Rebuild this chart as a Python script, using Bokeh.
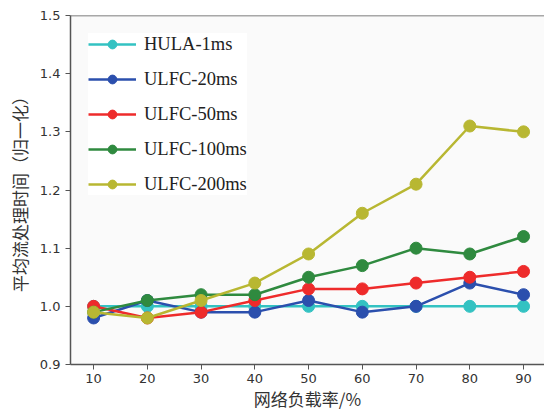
from bokeh.plotting import figure
from bokeh.models import Span, Legend, LegendItem, FixedTicker, Range1d, NumeralTickFormatter
from bokeh.embed import file_html
from bokeh.resources import INLINE

loads = [10, 20, 30, 40, 50, 60, 70, 80, 90]
hula_1ms = [1.00, 1.00, 1.00, 1.00, 1.00, 1.00, 1.00, 1.00, 1.00]
ulfc_20ms = [0.98, 1.01, 0.99, 0.99, 1.01, 0.99, 1.00, 1.04, 1.02]
ulfc_50ms = [1.00, 0.98, 0.99, 1.01, 1.03, 1.03, 1.04, 1.05, 1.06]
ulfc_100ms = [0.99, 1.01, 1.02, 1.02, 1.05, 1.07, 1.10, 1.09, 1.12]
ulfc_200ms = [0.99, 0.98, 1.01, 1.04, 1.09, 1.16, 1.21, 1.31, 1.30]

series_names = ["HULA-1ms", "ULFC-20ms", "ULFC-50ms", "ULFC-100ms", "ULFC-200ms"]
series_values = [hula_1ms, ulfc_20ms, ulfc_50ms, ulfc_100ms, ulfc_200ms]
series_colors = ["#33c2c2", "#2b4fad", "#ee2b2b", "#2f8a3f", "#b8b732"]

y_ticks = [0.9, 1.0, 1.1, 1.2, 1.3, 1.4, 1.5]
x_title = "网络负载率/%"
y_title = "平均流处理时间（归一化）"

p = figure(width=544, height=413, output_backend="svg", toolbar_location=None,
           x_range=Range1d(5.7, 93.9), y_range=Range1d(0.9, 1.5),
           min_border_left=70, min_border_right=0, min_border_top=15, min_border_bottom=46)

p.background_fill_color = "#fafafa"
p.border_fill_color = "#ffffff"
p.outline_line_color = None
p.grid.visible = False

items = []
for name, vals, col in zip(series_names, series_values, series_colors):
    l = p.line(loads, vals, line_color=col, line_width=2.5)
    s = p.scatter(loads, vals, size=12, fill_color=col, line_color=col)
    items.append(LegendItem(label=name, renderers=[l, s]))

legend = Legend(items=items, location="top_left")
legend.label_text_font = "Liberation Serif"
legend.label_text_font_size = "18.5px"
legend.label_text_color = "#222222"
legend.glyph_width = 48
legend.glyph_height = 22
legend.spacing = 13
legend.label_standoff = 8
legend.margin = 18
legend.padding = 10
legend.border_line_color = None
legend.background_fill_color = "#ffffff"
legend.background_fill_alpha = 1.0
p.add_layout(legend)

p.add_layout(Span(location=1.5, dimension="width", line_color="#555555", line_width=1.5))

for ax in (p.xaxis, p.yaxis):
    ax.axis_line_color = "#555555"
    ax.axis_line_width = 1.5
    ax.major_tick_line_color = "#555555"
    ax.major_tick_line_width = 1
    ax.major_tick_out = 5
    ax.major_tick_in = 0
    ax.minor_tick_line_color = None
    ax.major_label_text_font = "DejaVu Sans"
    ax.major_label_text_font_size = "13px"
    ax.major_label_text_color = "#333333"
    ax.axis_label_text_font = "Noto Sans CJK SC"
    ax.axis_label_text_font_size = "17px"
    ax.axis_label_text_font_style = "normal"
    ax.axis_label_text_color = "#333333"

p.xaxis.ticker = FixedTicker(ticks=loads)
p.yaxis.ticker = FixedTicker(ticks=y_ticks)
p.yaxis.formatter = NumeralTickFormatter(format="0.0")
p.xaxis.axis_label = x_title
p.yaxis.axis_label = y_title
p.xaxis.major_label_standoff = 4
p.xaxis.axis_label_standoff = 0
p.yaxis.axis_label_standoff = 5

open("out.html", "w").write(file_html(p, INLINE))
